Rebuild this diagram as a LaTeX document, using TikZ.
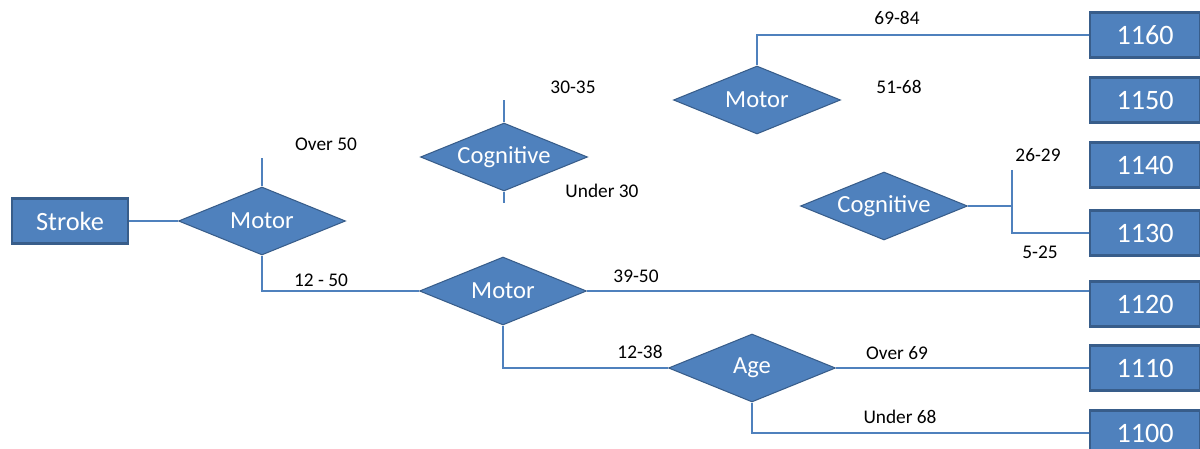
\documentclass[tikz,border=0pt]{standalone}
\usepackage{fontspec}
\setmainfont{Carlito}
\usetikzlibrary{shapes.geometric}
\definecolor{boxblue}{HTML}{4F81BD}
\definecolor{edgeblue}{HTML}{385D8A}
\newcommand{\dtext}[1]{\makebox[0pt]{#1}}
\tikzset{
  decision/.style={diamond, fill=boxblue, draw=edgeblue, line width=0.6pt,
    text=white, minimum width=3.34cm, minimum height=1.36cm, inner sep=0pt,
    font=\fontsize{14}{16}\selectfont},
  outcome/.style={rectangle, fill=boxblue, draw=edgeblue, line width=1.4pt,
    text=white, minimum width=2.2cm, minimum height=0.9cm, inner sep=0pt,
    font=\fontsize{16}{18}\selectfont},
  link/.style={draw=boxblue, line width=0.8pt},
  branch/.style={font=\fontsize{11}{13}\selectfont, text=black, inner sep=0pt}
}
\begin{document}
\begin{tikzpicture}[x=0.02cm,y=-0.02cm]
  \useasboundingbox (0,0) rectangle (1200,449);

  % Start
  \node[outcome, minimum width=2.32cm, font=\fontsize{15}{17}\selectfont] (stroke) at (70,221) {Stroke};

  % Decisions
  \node[decision] (motorA) at (262,221) {\dtext{Motor}};
  \node[decision] (cogA) at (504,157) {\dtext{Cognitive}};
  \node[decision] (motorB) at (757,100) {\dtext{Motor}};
  \node[decision] (cogB) at (884,206) {\dtext{Cognitive}};
  \node[decision] (motorC) at (503,291) {\dtext{Motor}};
  \node[decision] (age) at (752,368) {\dtext{Age}};

  % Outcomes
  \node[outcome] (o1160) at (1145,35) {1160};
  \node[outcome] (o1150) at (1145,100) {1150};
  \node[outcome] (o1140) at (1145,165) {1140};
  \node[outcome] (o1130) at (1145,233) {1130};
  \node[outcome] (o1120) at (1145,304) {1120};
  \node[outcome] (o1110) at (1145,368) {1110};
  \node[outcome] (o1100) at (1145,433) {1100};

  % Free ends
  \coordinate (motorAup) at (262,158);
  \coordinate (cogAup) at (504,100);
  \coordinate (cogAdown) at (504,203);
  \coordinate (cogBup) at (1012,170);

  % Connectors
  \draw[link] (stroke.east) -- (motorA.west);
  \draw[link] (motorA.north) -- (motorAup);
  \draw[link] (motorA.south) |- (motorC.west);
  \draw[link] (cogA.north) -- (cogAup);
  \draw[link] (cogA.south) -- (cogAdown);
  \draw[link] (motorB.north) |- (o1160.west);
  \draw[link] (cogB.east) -- (cogBup |- cogB.east);
  \draw[link] (cogBup) |- (o1130.west);
  \draw[link] (motorC.east) -- (o1120.west |- motorC.east);
  \draw[link] (motorC.south) |- (age.west);
  \draw[link] (age.east) -- (o1110.west);
  \draw[link] (age.south) |- (o1100.west);

  % Branch labels
  \node[branch] (lOver50) at (326,144) {Over 50};
  \node[branch] (l1250) at (321,280) {12 - 50};
  \node[branch] (l3035) at (573,87) {30-35};
  \node[branch] (lUnder30) at (602,191) {Under 30};
  \node[branch] (l6984) at (897,18) {69-84};
  \node[branch] (l5168) at (899,87) {51-68};
  \node[branch] (l2629) at (1038,155) {26-29};
  \node[branch] (l525) at (1040,252) {5-25};
  \node[branch] (l3950) at (636,276) {39-50};
  \node[branch] (l1238) at (640,352) {12-38};
  \node[branch] (lOver69) at (897,353) {Over 69};
  \node[branch] (lUnder68) at (900,417) {Under 68};
\end{tikzpicture}
\end{document}
